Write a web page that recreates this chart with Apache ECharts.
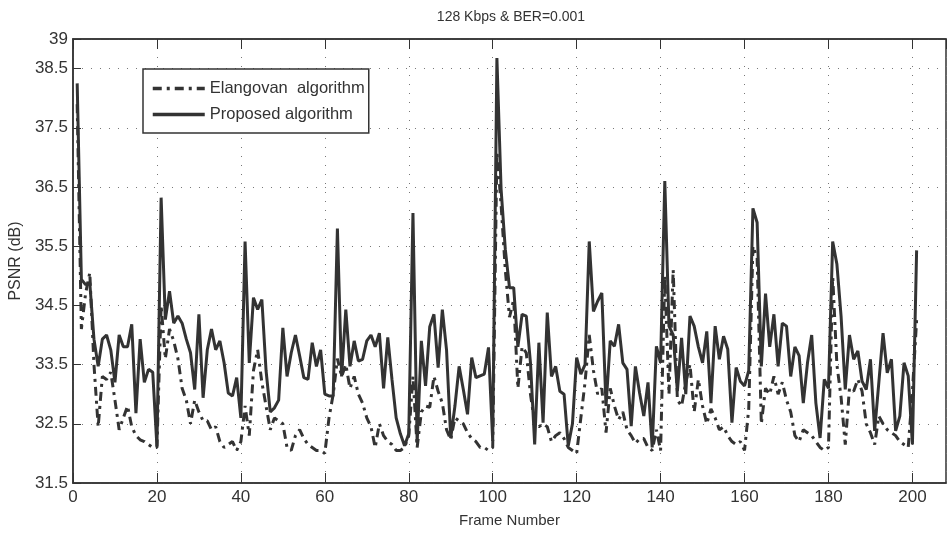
<!DOCTYPE html>
<html><head><meta charset="utf-8">
<script src="https://cdn.jsdelivr.net/npm/echarts@6/dist/echarts.min.js"></script>
<style>html,body{margin:0;padding:0;background:#fff}#c{width:947px;height:537px}</style>
</head><body><div id="c"></div>
<script>
const titleText = "128 Kbps & BER=0.001";
const seriesNames = ["Elangovan  algorithm", "Proposed algorithm"];
const xTicks = [0, 20, 40, 60, 80, 100, 120, 140, 160, 180, 200];
const yTicks = [31.5, 32.5, 33.5, 34.5, 35.5, 36.5, 37.5, 38.5, 39];

const elangovan = [
37.9,34.1,34.7,35.05,33.5,32.45,33.3,33.25,33.37,32.9,
32.4,32.6,32.8,32.45,32.3,32.23,32.2,32.15,32.1,32.1,
34.5,33.6,34.1,33.9,33.6,33.1,32.9,32.5,32.9,32.7,
32.55,32.55,32.4,32.45,32.2,32.1,32.15,32.2,32.05,32.2,
32.8,32.3,33.4,33.75,33.2,32.8,32.4,32.6,32.55,32.5,
32.1,32.05,32.3,32.4,32.25,32.15,32.1,32.05,32.05,32.0,
32.6,33.0,33.6,33.3,33.5,33.1,33.3,33.0,32.85,32.6,
32.45,32.1,32.5,32.3,32.2,32.15,32.05,32.05,32.1,32.3,
33.3,32.1,32.7,32.8,32.78,33.3,33.05,32.85,32.4,32.23,
32.6,32.55,32.5,32.35,32.25,32.2,32.1,32.1,32.05,32.1,
37.1,36.2,35.1,34.3,34.6,33.1,33.8,33.7,33.0,32.5,
32.45,32.5,32.45,32.2,32.3,32.35,32.25,32.1,32.05,32.0,
32.6,33.2,34.0,33.4,33.0,33.1,32.35,33.1,32.8,32.57,
32.7,32.4,32.3,32.17,32.25,32.25,32.1,32.05,32.4,32.05,
35.0,33.0,35.1,32.9,32.8,33.2,33.5,32.7,33.25,32.8,
32.5,32.75,32.6,32.4,32.45,32.3,32.2,32.15,32.2,32.05,
32.75,35.5,35.3,32.5,33.1,33.0,33.3,33.0,33.2,32.9,
32.7,32.3,32.2,32.4,32.35,32.3,32.2,32.1,32.05,32.1,
35.0,33.5,32.95,32.15,33.1,33.05,33.25,33.05,32.5,32.35,
32.15,32.63,32.5,32.4,32.35,32.3,32.2,32.15,32.1,33.05,
34.25
];
const proposed = [
38.25,34.94,34.85,34.88,33.93,33.47,33.93,34.0,33.75,33.2,
34.0,33.8,33.8,34.18,32.68,33.93,33.2,33.42,33.37,32.12,
36.32,34.26,34.74,34.2,34.32,34.2,33.93,33.7,33.08,34.35,
32.94,33.75,34.1,33.75,33.9,33.53,33.02,32.97,33.28,32.6,
35.58,33.53,34.63,34.43,34.6,33.4,32.7,32.77,32.9,34.12,
33.3,33.7,34.0,33.65,33.28,33.25,33.87,33.47,33.75,33.0,
32.97,32.97,35.8,33.3,34.43,33.47,33.9,33.56,33.59,33.9,
34.0,33.8,34.03,33.1,33.96,33.25,32.6,32.33,32.13,32.33,
36.06,32.18,33.9,33.14,34.14,34.35,33.45,34.43,33.75,32.26,
32.8,33.47,33.08,32.66,33.62,33.28,33.31,33.34,33.79,32.21,
38.68,36.46,35.45,34.8,34.8,33.8,34.35,34.32,33.53,32.15,
33.87,32.52,34.38,33.3,33.47,33.05,33.0,32.13,32.5,33.62,
33.34,33.5,35.58,34.4,34.57,34.71,32.8,33.9,33.81,34.18,
33.53,33.42,32.46,33.47,33.02,32.63,33.2,32.1,33.81,33.53,
36.6,34.15,34.0,33.05,33.95,33.0,34.32,34.15,33.8,33.53,
34.06,32.85,34.15,33.59,33.98,33.76,32.52,33.45,33.22,33.14,
33.4,36.14,35.9,33.47,34.7,33.8,34.35,33.47,34.2,34.15,
33.3,33.8,33.65,32.85,33.53,34.0,32.85,32.26,33.25,33.1,
35.58,35.2,34.32,33.08,34.0,33.59,33.73,33.22,33.08,33.59,
32.38,33.2,34.03,33.36,33.59,32.38,32.63,33.53,33.31,32.15,
35.43
];
const frames = proposed.map((_, i) => i + 1);

const chart = echarts.init(document.getElementById('c'));
const font = 'Liberation Sans, Arial, sans-serif';
const ink = '#333';
const grid = {left: 70, top: 39, right: 1, bottom: 54, show: true, borderColor: ink, borderWidth: 1.5, backgroundColor: '#fff'};
const split = {show: true, lineStyle: {color: '#777', type: [1, 8], width: 1}};
chart.setOption({
  animation: false,
  backgroundColor: '#fff',
  title: {text: titleText, left: 506, top: 5, textAlign: 'center',
    textStyle: {fontFamily: font, fontSize: 14, fontWeight: 'normal', color: ink}},
  legend: {
    orient: 'vertical', left: 143, top: 69,
    data: seriesNames,
    itemWidth: 52, itemHeight: 16, itemGap: 9,
    padding: [11, 4, 10, 8],
    borderColor: ink, borderWidth: 1.5, backgroundColor: '#fff',
    itemStyle: {opacity: 0},
    lineStyle: {width: 3.5, inactiveWidth: 3.5},
    textStyle: {fontFamily: font, fontSize: 16.5, color: ink}
  },
  grid: grid,
  xAxis: [{
    type: 'value', min: 0, max: 208, interval: 20,
    name: 'Frame Number', nameLocation: 'middle', nameGap: 30,
    nameTextStyle: {fontFamily: font, fontSize: 15, color: ink},
    axisLine: {show: true, onZero: false, lineStyle: {color: ink, width: 1.5}},
    axisTick: {show: true, inside: true, length: 10, lineStyle: {color: ink}},
    axisLabel: {fontFamily: font, fontSize: 17, color: ink, margin: 6, showMaxLabel: false,
      formatter: v => (xTicks.indexOf(v) >= 0 ? String(v) : '')},
    splitLine: split
  }, {
    type: 'value', min: 0, max: 208, interval: 20, position: 'top',
    axisLine: {show: true, lineStyle: {color: ink, width: 1.5}},
    axisTick: {show: true, inside: true, length: 10, lineStyle: {color: ink}},
    axisLabel: {show: false}, splitLine: {show: false}
  }],
  yAxis: [{
    type: 'value', min: 31.5, max: 39, interval: 1,
    name: 'PSNR (dB)', nameLocation: 'middle', nameGap: 46,
    nameTextStyle: {fontFamily: font, fontSize: 16, color: ink},
    axisLine: {show: true, onZero: false, lineStyle: {color: ink, width: 1.5}},
    axisTick: {show: true, inside: true, length: 8, lineStyle: {color: ink}},
    axisLabel: {fontFamily: font, fontSize: 17, color: ink, margin: 5,
      formatter: v => (yTicks.indexOf(v) >= 0 ? String(v) : '')},
    splitLine: split
  }],
  series: [{
    name: seriesNames[0], type: 'line', xAxisIndex: 0,
    data: frames.map((f, i) => [f, elangovan[i]]),
    symbol: 'none', z: 2,
    lineStyle: {color: ink, width: 3, type: [9, 5, 3, 5]},
    itemStyle: {color: ink}
  }, {
    name: seriesNames[1], type: 'line', xAxisIndex: 0,
    data: frames.map((f, i) => [f, proposed[i]]),
    symbol: 'none', z: 3,
    lineStyle: {color: ink, width: 3, type: 'solid'},
    itemStyle: {color: ink}
  }]
});
</script>
</body></html>
